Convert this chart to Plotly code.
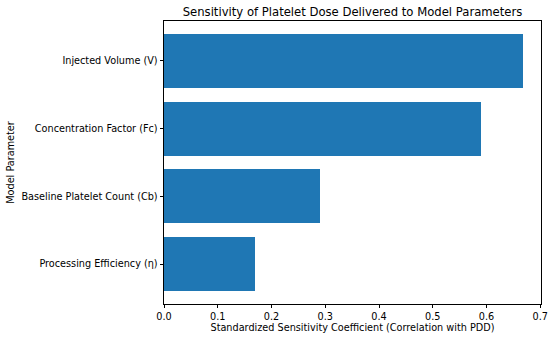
import plotly.graph_objects as go

parameters = ["Processing Efficiency (η)", "Baseline Platelet Count (Cb)",
              "Concentration Factor (Fc)", "Injected Volume (V)"]
sensitivity = [0.17, 0.29, 0.59, 0.668]
x_ticks = [0.0, 0.1, 0.2, 0.3, 0.4, 0.5, 0.6, 0.7]

font = "DejaVu Sans"
fs = 9.7
fig = go.Figure(go.Bar(
    y=parameters, x=sensitivity, orientation="h",
    marker=dict(color="#1f77b4", line=dict(width=0)), width=0.8,
))
n = len(parameters)
pad = 0.05 * (n - 1 + 0.8)
fig.update_layout(
    width=550, height=338,
    margin=dict(l=164, r=9, t=21, b=34, autoexpand=False),
    plot_bgcolor="white", paper_bgcolor="white",
    font=dict(family=font, size=fs, color="black"),
    title=dict(text="Sensitivity of Platelet Dose Delivered to Model Parameters",
               x=(164 + 541) / 2 / 550, xanchor="center", y=1 - 12 / 338, yanchor="middle",
               font=dict(size=fs * 1.2, family=font)),
    showlegend=False,
    bargap=0,
)
fig.update_xaxes(
    automargin=False,
    range=[0, max(sensitivity) * 1.05], tickvals=x_ticks,
    ticktext=[f"{v:.1f}" for v in x_ticks],
    showgrid=False, zeroline=False, showline=True, linecolor="black", linewidth=0.8,
    mirror=True, ticks="outside", ticklen=3.5, tickwidth=0.8, tickcolor="black",
    title=dict(text="Standardized Sensitivity Coefficient (Correlation with PDD)",
               font=dict(size=fs), standoff=3),
)
fig.update_yaxes(
    automargin=False,
    type="category", categoryorder="array", categoryarray=parameters,
    range=[-0.4 - pad, n - 1 + 0.4 + pad],
    showgrid=False, zeroline=False, showline=True, linecolor="black", linewidth=0.8,
    mirror=True, ticks="outside", ticklen=3.5, tickwidth=0.8, tickcolor="black",
    title=dict(text="Model Parameter", font=dict(size=fs), standoff=5),
)
fig.write_html("out.html", config={"displayModeBar": False},
               post_script="document.body.style.margin='0';")
